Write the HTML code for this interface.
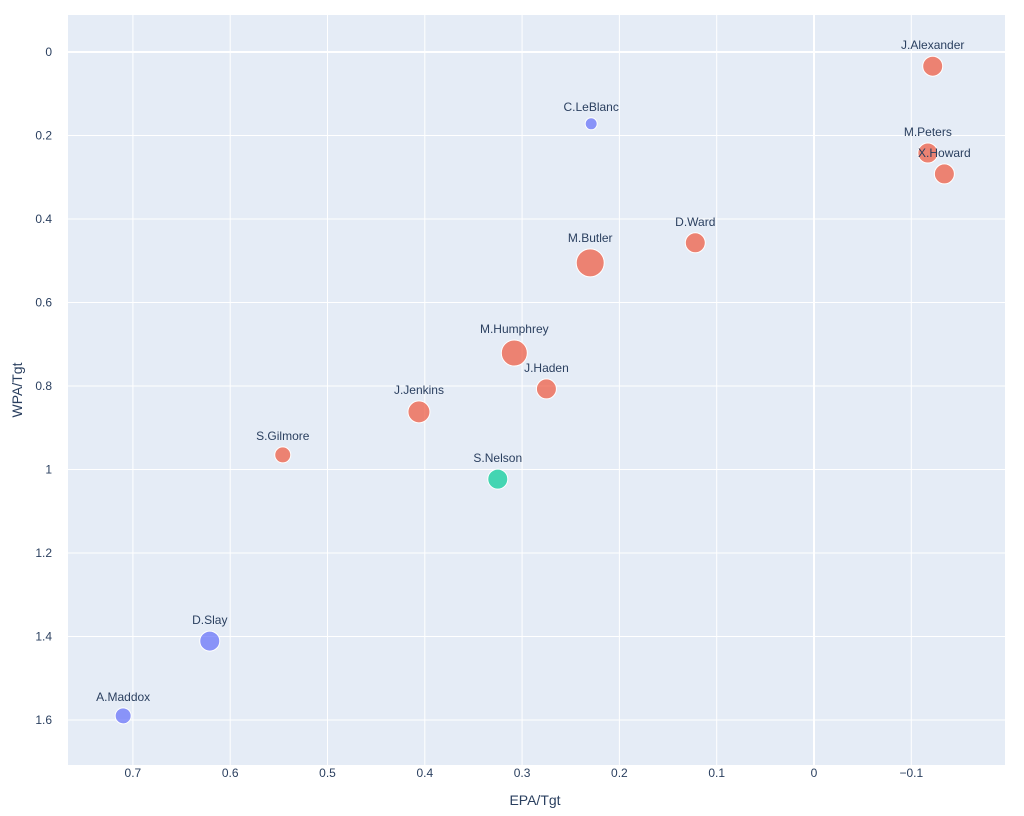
<!DOCTYPE html>
<html><head><meta charset="utf-8"><style>
body{margin:0;background:#fff;}
svg{display:block;font-family:"Liberation Sans",Arial,sans-serif;}
</style></head><body>
<svg id="chart" width="1024" height="816">
<rect x="68" y="15" width="937" height="750" fill="#e5ecf6"/>
<g id="grid"></g><g id="marks"></g><g id="labels"></g>
<text x="535" y="805" text-anchor="middle" font-size="14" fill="#2a3f5f">EPA/Tgt</text>
<text transform="translate(22,390) rotate(-90)" text-anchor="middle" font-size="14" fill="#2a3f5f">WPA/Tgt</text>
</svg>
<script>
const names=["J.Alexander","C.LeBlanc","M.Peters","X.Howard","D.Ward","M.Butler","M.Humphrey","J.Haden","J.Jenkins","S.Gilmore","S.Nelson","D.Slay","A.Maddox"];
const epa=[-0.122,0.229,-0.117,-0.134,0.122,0.230,0.308,0.275,0.406,0.546,0.325,0.621,0.710];
const wpa=[0.034,0.172,0.242,0.292,0.457,0.505,0.721,0.807,0.862,0.965,1.023,1.411,1.590];
const sizes=[10,6,10,10,10,14,13,10,11,8,10,10,8];
const groups=["r","b","r","r","r","r","r","r","r","r","g","b","b"];
const xTicks=[0.7,0.6,0.5,0.4,0.3,0.2,0.1,0,-0.1];
const xTickLabels=["0.7","0.6","0.5","0.4","0.3","0.2","0.1","0","\u22120.1"];
const yTicks=[0,0.2,0.4,0.6,0.8,1,1.2,1.4,1.6];
const yTickLabels=["0","0.2","0.4","0.6","0.8","1","1.2","1.4","1.6"];
const NS="http://www.w3.org/2000/svg";
const X=v=>814-v*973;
const Y=v=>52+v*417.5;
const colors={r:"#EF553B",b:"#636EFA",g:"#00CC96"};
function mk(tag,attrs,parent){const e=document.createElementNS(NS,tag);for(const k in attrs)e.setAttribute(k,attrs[k]);document.getElementById(parent).appendChild(e);return e;}
xTicks.forEach((t,i)=>{
 const l=mk("line",{x1:X(t),x2:X(t),y1:15,y2:765,stroke:"#fff","stroke-width":t===0?2:1},"grid");
 
 
 const tx=mk("text",{x:X(t),y:777,"text-anchor":"middle","font-size":12,fill:"#2a3f5f"},"grid");
 tx.textContent=xTickLabels[i];
 
 
});
yTicks.forEach((t,i)=>{
 const l=mk("line",{x1:68,x2:1005,y1:Y(t),y2:Y(t),stroke:"#fff","stroke-width":t===0?2:1},"grid");
 
 
 const tx=mk("text",{x:52,y:Y(t)+4,"text-anchor":"end","font-size":12,fill:"#2a3f5f"},"grid");
 tx.textContent=yTickLabels[i];
 
 
});
names.forEach((n,i)=>{
 const c=mk("circle",{cx:X(epa[i]),cy:Y(wpa[i]),r:sizes[i],fill:colors[groups[i]],"fill-opacity":0.7,stroke:"#fff","stroke-width":1},"marks");
 
 
 const t=mk("text",{x:X(epa[i]),y:Y(wpa[i])-sizes[i]-7,"text-anchor":"middle","font-size":12,fill:"#2a3f5f"},"labels");
 t.textContent=n;
 
 
});
</script>
</body></html>
